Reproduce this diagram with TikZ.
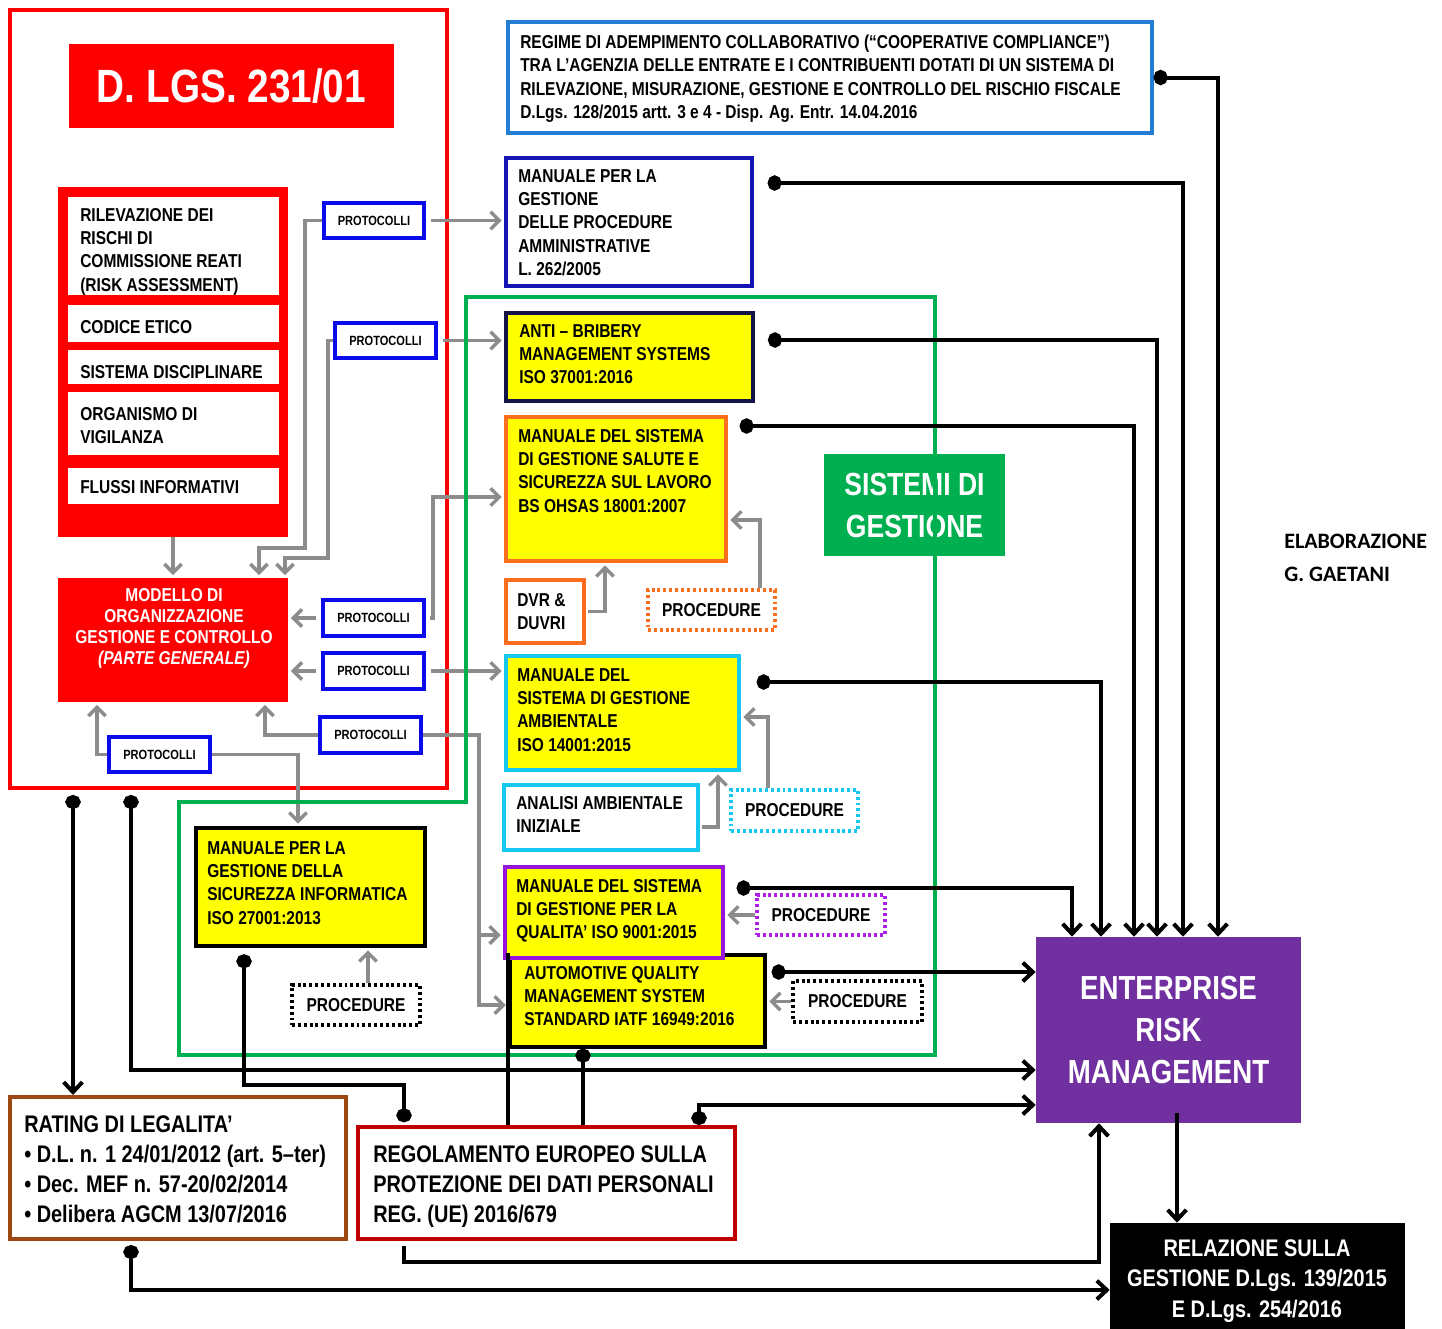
\documentclass[tikz,border=0pt]{standalone}
\usepackage{fontspec}
\setmainfont{Liberation Sans}[FakeStretch=0.83]
\newfontfamily\carlfont{Carlito}
\usetikzlibrary{arrows.meta,calc}
\definecolor{cRed}{RGB}{255,0,0}
\definecolor{cBlueP}{RGB}{10,10,235}
\definecolor{cRegime}{RGB}{35,125,210}
\definecolor{cDBlue}{RGB}{20,20,180}
\definecolor{cNavy}{RGB}{20,20,70}
\definecolor{cOrange}{RGB}{250,110,30}
\definecolor{cCyan}{RGB}{20,200,240}
\definecolor{cPurpB}{RGB}{150,20,220}
\definecolor{cPurpD}{RGB}{175,30,230}
\definecolor{cYellow}{RGB}{255,255,0}
\definecolor{cGreen}{RGB}{0,176,80}
\definecolor{cERM}{RGB}{112,48,160}
\definecolor{cBrown}{RGB}{156,74,18}
\definecolor{cDRed}{RGB}{192,0,0}
\definecolor{cGray}{RGB}{140,140,140}
% name, style, x1, y1, x2, y2, text
\newcommand\bx[7]{\node[#2,inner sep=0pt,minimum width={(#5-#3)*0.75pt},minimum height={(#6-#4)*0.75pt}] (#1) at ({(#3+#5)/2},{(#4+#6)/2}) {#7};}
\tikzset{
  frame/.style={draw=#1,line width=2.4pt},
  ybox/.style={draw=#1,line width=2.4pt,fill=cYellow},
  wbox/.style={draw=#1,line width=2.4pt,fill=white},
  prot/.style={draw=cBlueP,line width=2.3pt,fill=white,font=\fontsize{10}{12}\selectfont\bfseries},
  procbox/.style={draw=#1,line width=2.4pt,dash pattern=on 2.2pt off 2.2pt,fill=white,font=\fontsize{14}{17}\selectfont\bfseries},
  txt/.style={inner sep=0pt,align=left,anchor=north west,font=\fontsize{14}{17.5}\selectfont\bfseries},
  txtw/.style={inner sep=0pt,anchor=west,font=\fontsize{14}{17.5}\selectfont\bfseries},
  garrow/.style={draw=cGray,line width=2.6pt,shorten >=2pt,-{Straight Barb[length=6.5pt,width=13pt]}},
  blk/.style={draw=black,line width=3pt},
  plainarrow/.style={blk,-{Straight Barb[length=7.5pt,width=14pt]}},
  dotarrow/.style={blk,{Circle[length=10.5pt,width=11.5pt]}-{Straight Barb[length=7.5pt,width=14pt]}},
  dotdot/.style={blk,{Circle[length=10.5pt,width=11.5pt]}-{Circle[length=10.5pt,width=11.5pt]}},
  dotline/.style={blk,{Circle[length=10.5pt,width=11.5pt]}-},
}
\begin{document}
\begin{tikzpicture}[x=0.75pt,y=-0.75pt]
\useasboundingbox (0,0) rectangle (1442,1328);

% ---------- left block: D.Lgs 231/01 ----------
\bx{outer}{frame=cRed,line width=3pt}{10}{10}{447}{788}{}
\bx{dlgs}{fill=cRed,text=white,font=\fontsize{35}{40}\selectfont\bfseries}{69}{44}{394}{128}{D. LGS. 231/01}
\bx{redblock}{fill=cRed}{58}{187}{288}{537}{}
\bx{w1}{fill=white}{68}{197}{279}{295}{}
\bx{w2}{fill=white}{68}{305}{279}{342}{}
\bx{w3}{fill=white}{68}{350}{279}{384}{}
\bx{w4}{fill=white}{68}{392}{279}{455}{}
\bx{w5}{fill=white}{68}{468}{279}{504}{}
\node[txt] (t1) at (80,208) {RILEVAZIONE  DEI\\RISCHI DI\\COMMISSIONE  REATI\\(RISK ASSESSMENT)};
\node[txtw] (t2) at (80,327) {CODICE  ETICO};
\node[txtw] (t3) at (80,372) {SISTEMA DISCIPLINARE};
\node[txt] (t4) at (80,407) {ORGANISMO  DI\\VIGILANZA};
\node[txtw] (t5) at (80,487) {FLUSSI INFORMATIVI};
\bx{modello}{fill=cRed}{58}{578}{288}{702}{}
\node[inner sep=0pt,anchor=north,align=center,text=white,font=\fontsize{14}{15.75}\selectfont\bfseries] (tmod) at (174,588) {MODELLO DI\\ORGANIZZAZIONE\\GESTIONE E CONTROLLO\\\textit{(PARTE GENERALE)}};

\bx{P1}{prot}{324}{203}{424}{238}{PROTOCOLLI}
\bx{P2}{prot}{335}{323}{436}{358}{PROTOCOLLI}
\bx{P3}{prot}{323}{600}{424}{636}{PROTOCOLLI}
\bx{P4}{prot}{323}{653}{424}{689}{PROTOCOLLI}
\bx{P5}{prot}{320}{717}{421}{753}{PROTOCOLLI}
\bx{P6}{prot}{109}{737}{210}{772}{PROTOCOLLI}

% ---------- right column boxes ----------
\bx{regime}{frame=cRegime}{508}{22}{1152}{133}{}
\node[txt,font=\fontsize{14}{17.6}\selectfont\bfseries] (tregime) at (520,34.5) {REGIME DI ADEMPIMENTO COLLABORATIVO (“COOPERATIVE COMPLIANCE”)\\TRA L’AGENZIA DELLE ENTRATE E I CONTRIBUENTI DOTATI DI UN SISTEMA DI\\RILEVAZIONE, MISURAZIONE, GESTIONE E CONTROLLO DEL RISCHIO FISCALE\\D.Lgs. 128/2015 artt. 3 e 4 - Disp. Ag. Entr. 14.04.2016};
\bx{manPG}{frame=cDBlue}{506}{158}{752}{286}{}
\node[txt] (tmanPG) at (518,169) {MANUALE PER LA\\GESTIONE\\DELLE PROCEDURE\\AMMINISTRATIVE\\L. 262/2005};
\bx{sistemi}{fill=cGreen,text=white,align=center,font=\fontsize{24}{31.5}\selectfont\bfseries}{824}{454}{1005}{556}{SISTEMI DI\\GESTIONE}
\bx{anti}{ybox=cNavy}{506}{313}{753}{401}{}
\node[txt] (tanti) at (519,324) {ANTI – BRIBERY\\MANAGEMENT SYSTEMS\\ISO 37001:2016};
\bx{salute}{ybox=cOrange}{506}{417}{726}{561}{}
\node[txt] (tsalute) at (518,429) {MANUALE  DEL SISTEMA\\DI GESTIONE SALUTE E\\SICUREZZA  SUL LAVORO\\BS OHSAS 18001:2007};
\bx{dvr}{wbox=cOrange}{506}{580}{584}{643}{}
\node[txt] (tdvr) at (517,593) {DVR \&\\DUVRI};
\bx{procO}{procbox=cOrange}{648}{590}{775}{630}{PROCEDURE}
\bx{amb}{ybox=cCyan}{506}{656}{739}{770}{}
\node[txt] (tamb) at (517,668) {MANUALE  DEL\\SISTEMA DI GESTIONE\\AMBIENTALE\\ISO 14001:2015};
\bx{analisi}{wbox=cCyan}{504}{785}{698}{850}{}
\node[txt] (tanal) at (516,796) {ANALISI  AMBIENTALE\\INIZIALE};
\bx{procC}{procbox=cCyan}{731}{790}{858}{831}{PROCEDURE}
\bx{auto}{ybox=black}{510}{955}{765}{1047}{}
\node[txt] (tauto) at (524,966) {AUTOMOTIVE  QUALITY\\MANAGEMENT  SYSTEM\\STANDARD IATF 16949:2016};
\bx{qual}{ybox=cPurpB}{505}{867}{723}{958}{}
\node[txt] (tqual) at (516,879) {MANUALE DEL SISTEMA\\DI GESTIONE PER LA\\QUALITA’ ISO 9001:2015};
\bx{procP}{procbox=cPurpD}{757}{895}{885}{935}{PROCEDURE}
\bx{procK}{procbox=black}{793}{981}{922}{1022}{PROCEDURE}
\bx{sicinfo}{ybox=black}{196}{828}{425}{946}{}
\node[txt] (tsic) at (207,841) {MANUALE PER LA\\GESTIONE DELLA\\SICUREZZA INFORMATICA\\ISO 27001:2013};
\bx{procI}{procbox=black}{292}{985}{420}{1025}{PROCEDURE}

\bx{erm}{fill=cERM,text=white,align=center,font=\fontsize{25}{31.5}\selectfont\bfseries}{1036}{937}{1301}{1123}{ENTERPRISE\\RISK\\MANAGEMENT}
\bx{relaz}{fill=black}{1110}{1223}{1405}{1335}{}
\node[inner sep=0pt,anchor=north,align=center,text=white,font=\fontsize{18}{23}\selectfont\bfseries] (trel) at (1257,1239) {RELAZIONE  SULLA\\GESTIONE D.Lgs. 139/2015\\E D.Lgs. 254/2016};
\node[inner sep=0pt,anchor=north west,align=left,font=\carlfont\fontsize{16.5}{24.75}\selectfont\bfseries] (elab) at (1284,534) {ELABORAZIONE\\G. GAETANI};

\bx{rating}{frame=cBrown,line width=3pt}{10}{1097}{346}{1239}{}
\node[txt,font=\fontsize{18}{22.5}\selectfont\bfseries] (trat) at (24,1115.5) {RATING DI LEGALITA’\\• D.L. n. 1 24/01/2012 (art. 5–ter)\\• Dec. MEF n. 57-20/02/2014\\• Delibera AGCM 13/07/2016};
\bx{regol}{frame=cDRed,line width=3pt}{358}{1127}{735}{1239}{}
\node[txt,font=\fontsize{18}{22.5}\selectfont\bfseries] (treg) at (373,1145.5) {REGOLAMENTO EUROPEO SULLA\\PROTEZIONE DEI DATI PERSONALI\\REG. (UE) 2016/679};

% ---------- gray connectors ----------
\draw[garrow] (redblock.south) -- (modello.north);
\draw[garrow] (P1.west) -- (305,0 |- P1.west) |- (259,548) -- (259,0 |- modello.north);
\draw[garrow] (P2.west) -- (328,0 |- P2.west) |- (285,558) -- (285,0 |- modello.north);
\draw[garrow,shorten <=4pt] (P1.east) -- (manPG.west |- P1.east);
\draw[garrow,shorten <=4pt] (P2.east) -- (anti.west |- P2.east);
\draw[garrow,shorten <=4pt] (P3.west) -- (modello.east |- P3.west);
\draw[garrow,shorten <=3pt] (P3.east) -- (433,0 |- P3.east) |- (salute.west |- 0,497);
\draw[garrow,shorten <=4pt] (P4.west) -- (modello.east |- P4.west);
\draw[garrow,shorten <=4pt] (P4.east) -- (amb.west |- P4.east);
\draw[garrow] (P5.west) -| (265,0 |- modello.south);
\draw[garrow] (P5.east) -- (479,0 |- P5.east) |- (auto.west |- 0,1005);
\coordinate (j5) at (479,935);
\draw[garrow] (j5) -- (qual.west |- j5);
\draw[garrow] (P6.west) -| (97,0 |- modello.south);
\draw[garrow] (P6.east) -| (298,0 |- sicinfo.north);
\draw[garrow,shorten <=2pt] (dvr.east) -| (605,0 |- salute.south);
\draw[garrow] (760,0 |- procO.north) |- (salute.east |- 0,520);
\draw[garrow,shorten <=2pt] (analisi.east |- 0,827) -| (718,0 |- amb.south);
\draw[garrow] (768,0 |- procC.north) |- (amb.east |- 0,717);
\draw[garrow] (procP.west) -- (qual.east |- procP.west);
\draw[garrow] (procK.west) -- (auto.east |- procK.west);
\draw[garrow] (368,0 |- procI.north) -- (368,0 |- sicinfo.south);

% ---------- green frame ----------
\draw[cGreen,line width=2.6pt] (466,297) -- (935,297) -- (935,1055) -- (179,1055) -- (179,802) -- (466,802) -- cycle;

% ---------- black connectors ----------
\draw[dotarrow] (regime.east) -| (1218,0 |- erm.north);
\draw[dotarrow,shorten <=10.5pt] (manPG.east |- 0,183) -| (1183,0 |- erm.north);
\draw[dotarrow,shorten <=10pt] (anti.east |- 0,340) -| (1157,0 |- erm.north);
\draw[dotarrow,shorten <=9pt] (salute.east |- 0,426) -| (1134,0 |- erm.north);
\draw[dotarrow,shorten <=12pt] (amb.east |- 0,682) -| (1101,0 |- erm.north);
\draw[dotarrow,shorten <=9pt] (qual.east |- 0,888) -| (1072,0 |- erm.north);
\draw[dotarrow,shorten <=3.75pt] (auto.east |- 0,972) -- (erm.west |- 0,972);
\draw[dotarrow,shorten <=3.75pt] (73,0 |- outer.south) -- (73,0 |- rating.north);
\draw[dotarrow,shorten <=3.75pt] (131,0 |- outer.south) |- (erm.west |- 0,1070);
\draw[dotdot,shorten <=5pt,shorten >=2pt] (244,0 |- sicinfo.south) |- (404,1085) -- (404,0 |- regol.north);
\draw[blk] (auto.north west) -- (auto.west |- regol.north);
\draw[dotline] (583,0 |- auto.south) -- (583,0 |- regol.north);
\draw[dotarrow] (699,0 |- regol.north) |- (erm.west |- 0,1105);
\draw[plainarrow,shorten <=4pt] (404,0 |- regol.south) |- (1099,1262) -- (1099,0 |- erm.south);
\draw[dotarrow,shorten <=3pt] (131,0 |- rating.south) |- (relaz.west |- 0,1290);
\draw[plainarrow,shorten <=-8pt] (1177,0 |- erm.south) -- (1177,0 |- relaz.north);
\end{tikzpicture}
\end{document}
